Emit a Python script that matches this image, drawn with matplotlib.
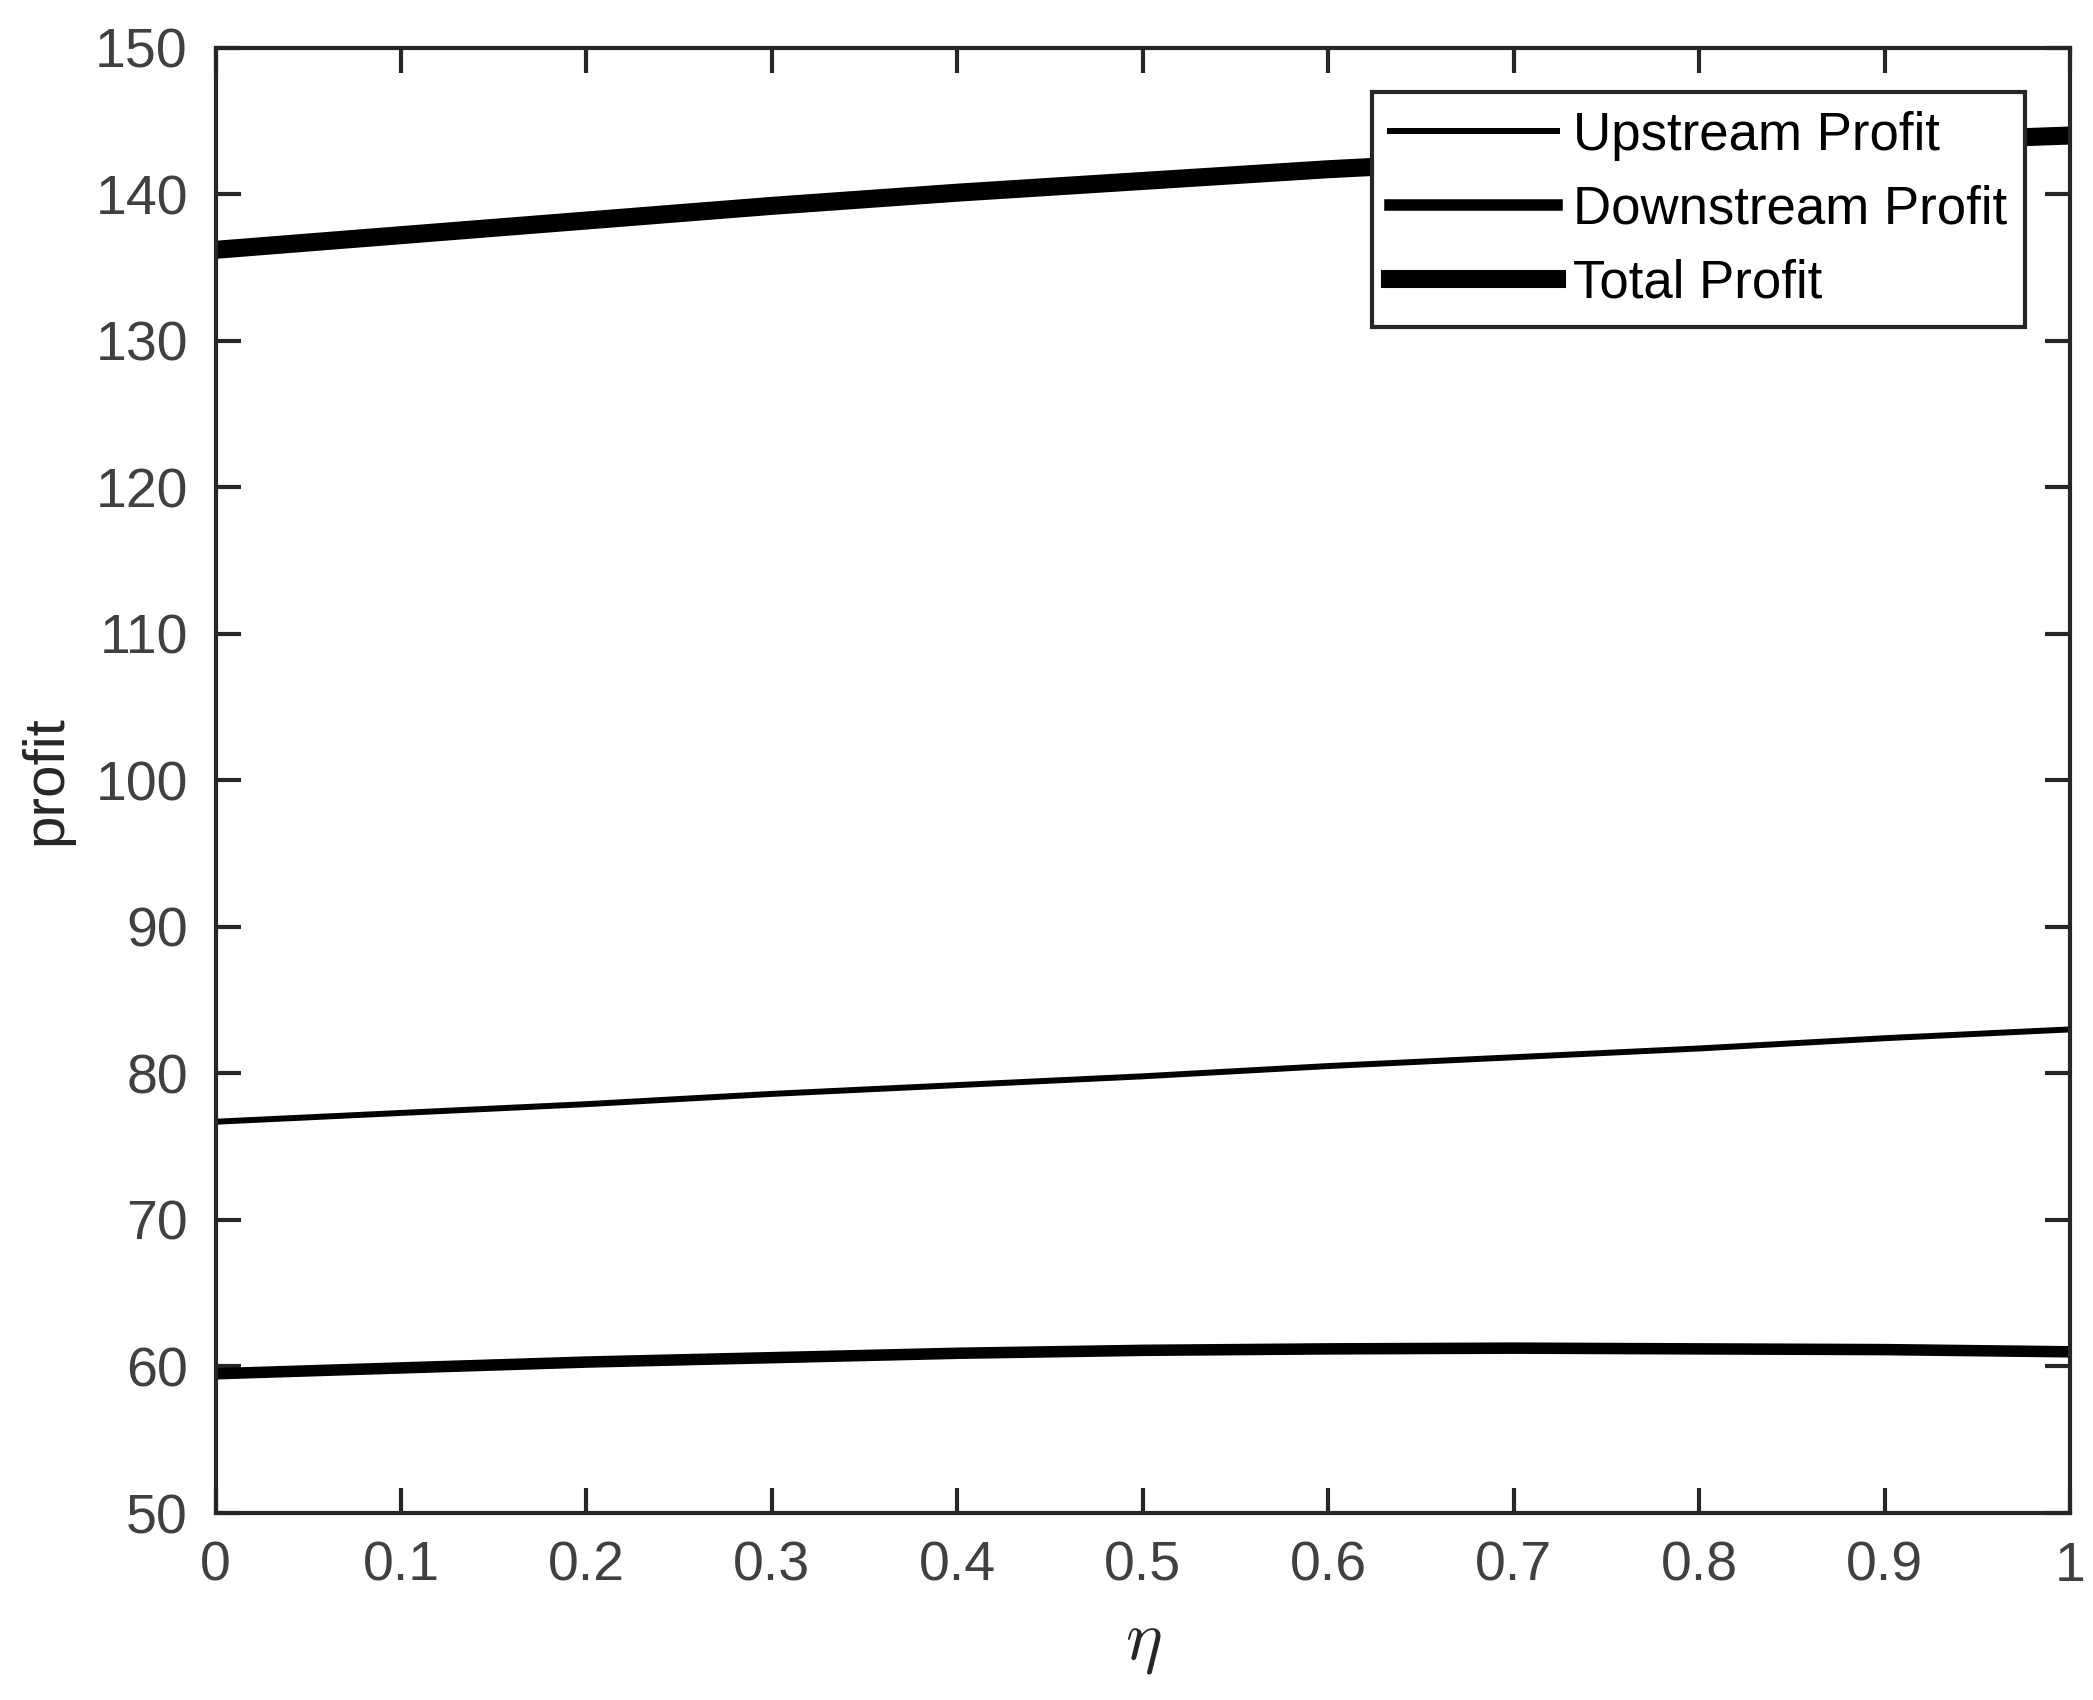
import matplotlib
matplotlib.use('Agg')
import matplotlib.pyplot as plt

plt.rcParams['font.family'] = ['Liberation Sans', 'DejaVu Sans']
plt.rcParams['mathtext.fontset'] = 'cm'

eta = [0.0, 0.1, 0.2, 0.3, 0.4, 0.5, 0.6, 0.7, 0.8, 0.9, 1.0]
upstream = [76.7, 77.3, 77.9, 78.6, 79.2, 79.8, 80.5, 81.1, 81.7, 82.4, 83.0]
downstream = [59.5, 59.9, 60.3, 60.6, 60.9, 61.1, 61.2, 61.25, 61.2, 61.15, 61.0]
total = [u + d for u, d in zip(upstream, downstream)]

xticks = [0, 0.1, 0.2, 0.3, 0.4, 0.5, 0.6, 0.7, 0.8, 0.9, 1]
xticklabels = ['0', '0.1', '0.2', '0.3', '0.4', '0.5', '0.6', '0.7', '0.8', '0.9', '1']
yticks = [50, 60, 70, 80, 90, 100, 110, 120, 130, 140, 150]

axis_col = '#262626'
label_col = '#404040'

fig = plt.figure(figsize=(20.93, 17), dpi=100)
ax = fig.add_axes([0.103, 0.110, 0.886, 0.862])

ax.plot(eta, upstream, color='black', linewidth=4.3, label='Upstream Profit')
ax.plot(eta, downstream, color='black', linewidth=8.3, label='Downstream Profit')
ax.plot(eta, total, color='black', linewidth=13, label='Total Profit')

ax.set_xlim(0, 1)
ax.set_ylim(50, 150)
ax.set_xticks(xticks)
ax.set_xticklabels(xticklabels)
ax.set_yticks(yticks)

for s in ax.spines.values():
    s.set_color(axis_col)
    s.set_linewidth(3)
ax.tick_params(direction='in', length=18, width=3, color=axis_col,
               labelcolor=label_col, labelsize=40, top=True, right=True,
               pad=20)

ax.set_xlabel(r'$\eta$', fontsize=50, color=axis_col, labelpad=14)
ax.set_ylabel('profit', fontsize=42, color=axis_col, labelpad=16)

leg = ax.legend(loc='upper right', fontsize=38, handlelength=3.15,
                borderaxespad=0.85, fancybox=False, framealpha=1,
                labelspacing=0.45, handletextpad=0.3, borderpad=0.35)
leg.get_frame().set_edgecolor(axis_col)
leg.get_frame().set_linewidth(3)

fig.savefig('out.png', dpi=100)
